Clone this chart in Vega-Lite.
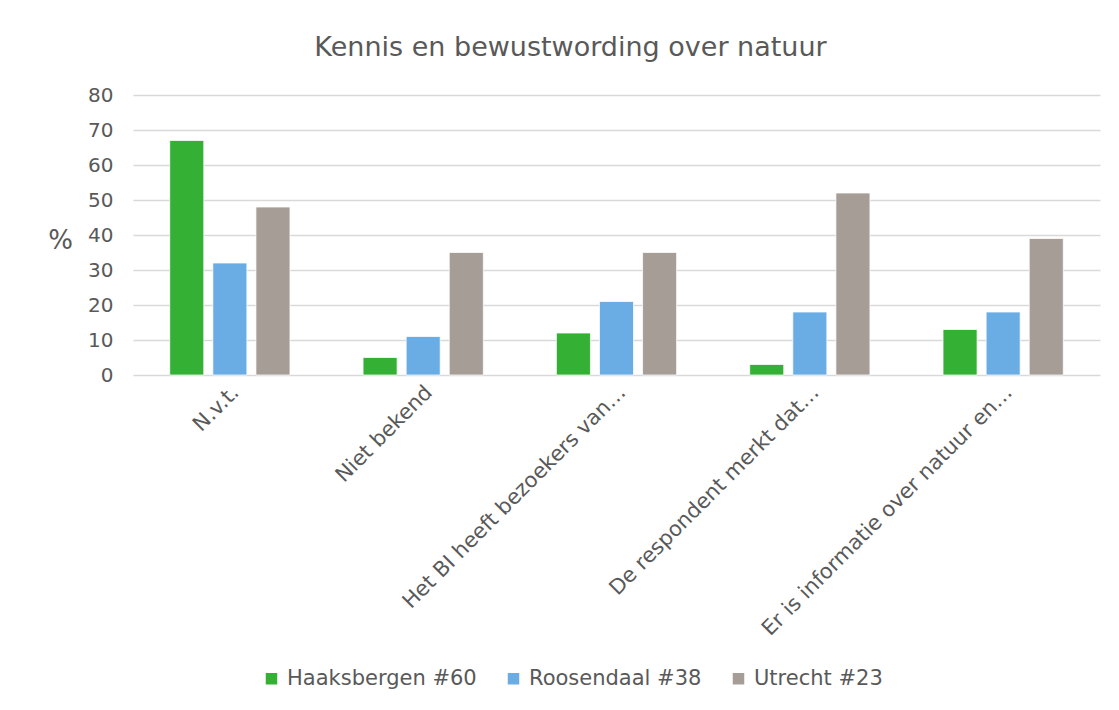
{
  "$schema": "https://vega.github.io/schema/vega-lite/v6.json",
  "autosize": {"type": "none"},
  "width": 967,
  "height": 280,
  "padding": {"left": 133, "top": 95, "right": 19, "bottom": 335},
  "background": "white",
  "title": {
    "text": "Kennis en bewustwording over natuur",
    "anchor": "middle",
    "dx": -46,
    "offset": 23,
    "font": "DejaVu Sans",
    "fontSize": 27,
    "fontWeight": "normal",
    "color": "#595959"
  },
  "data": {
    "values": [
      {"cat": "N.v.t.", "group": "Haaksbergen #60", "value": 67},
      {"cat": "N.v.t.", "group": "Roosendaal #38", "value": 32},
      {"cat": "N.v.t.", "group": "Utrecht #23", "value": 48},
      {"cat": "Niet bekend", "group": "Haaksbergen #60", "value": 5},
      {"cat": "Niet bekend", "group": "Roosendaal #38", "value": 11},
      {"cat": "Niet bekend", "group": "Utrecht #23", "value": 35},
      {"cat": "Het BI heeft bezoekers van…", "group": "Haaksbergen #60", "value": 12},
      {"cat": "Het BI heeft bezoekers van…", "group": "Roosendaal #38", "value": 21},
      {"cat": "Het BI heeft bezoekers van…", "group": "Utrecht #23", "value": 35},
      {"cat": "De respondent merkt dat…", "group": "Haaksbergen #60", "value": 3},
      {"cat": "De respondent merkt dat…", "group": "Roosendaal #38", "value": 18},
      {"cat": "De respondent merkt dat…", "group": "Utrecht #23", "value": 52},
      {"cat": "Er is informatie over natuur en…", "group": "Haaksbergen #60", "value": 13},
      {"cat": "Er is informatie over natuur en…", "group": "Roosendaal #38", "value": 18},
      {"cat": "Er is informatie over natuur en…", "group": "Utrecht #23", "value": 39}
    ]
  },
  "mark": {"type": "bar", "stroke": "white", "strokeWidth": 0.75},
  "encoding": {
    "x": {
      "field": "cat",
      "type": "nominal",
      "sort": null,
      "scale": {"paddingInner": 0.378, "paddingOuter": 0.19},
      "axis": {
        "title": null,
        "labelAngle": -45,
        "labelAlign": "right",
        "labelBaseline": "middle",
        "labelFont": "DejaVu Sans",
        "labelFontSize": 21,
        "labelColor": "#595959",
        "labelPadding": 14,
        "labelOffset": 6,
        "labelLimit": 500,
        "ticks": false,
        "domain": false,
        "grid": false
      }
    },
    "xOffset": {
      "field": "group",
      "type": "nominal",
      "scale": {"paddingInner": 0.21, "paddingOuter": 0}
    },
    "y": {
      "field": "value",
      "type": "quantitative",
      "scale": {"domain": [0, 80]},
      "axis": {
        "title": "%",
        "titleAngle": 0,
        "titleX": -73,
        "titleY": 145,
        "titleAlign": "center",
        "titleBaseline": "middle",
        "titleFont": "DejaVu Sans",
        "titleFontSize": 26,
        "titleFontWeight": "normal",
        "titleColor": "#595959",
        "values": [0, 10, 20, 30, 40, 50, 60, 70, 80],
        "labelFont": "DejaVu Sans",
        "labelFontSize": 20,
        "labelColor": "#595959",
        "labelPadding": 20,
        "ticks": false,
        "domain": false,
        "grid": true,
        "gridColor": "#d9d9d9",
        "gridWidth": 1.5
      }
    },
    "color": {
      "field": "group",
      "type": "nominal",
      "scale": {
        "domain": ["Haaksbergen #60", "Roosendaal #38", "Utrecht #23"],
        "range": ["#34B035", "#6AADE4", "#A59D96"]
      },
      "legend": {
        "title": null,
        "orient": "none",
        "direction": "horizontal",
        "legendX": 128,
        "legendY": 573,
        "symbolType": "square",
        "symbolSize": 132,
        "symbolStrokeWidth": 0,
        "labelFont": "DejaVu Sans",
        "labelFontSize": 21,
        "labelColor": "#595959",
        "labelOffset": 5,
        "labelLimit": 400,
        "columnPadding": 26
      }
    }
  },
  "config": {"view": {"stroke": null}}
}
